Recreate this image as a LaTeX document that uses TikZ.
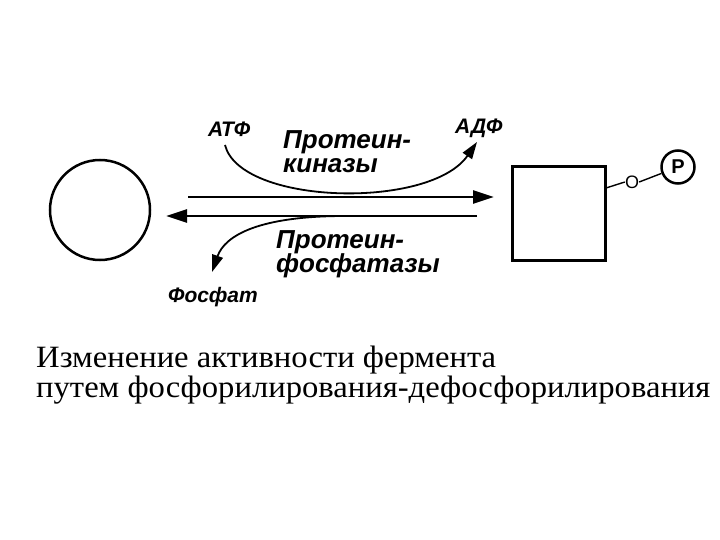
\documentclass[tikz,border=0pt]{standalone}
\usepackage{fontspec}
\setmainfont{Liberation Serif}
\newfontfamily\lsans{Liberation Sans}
\usetikzlibrary{arrows.meta}
\tikzset{
  thick line/.style={line width=2.6pt, -{Triangle[length=21pt,width=13pt]}},
  curve line/.style={line width=1.8pt, -{Triangle[length=17pt,width=11pt]}},
  enz/.style={font=\lsans\bfseries\itshape\fontsize{26}{26}\selectfont, inner sep=0pt, anchor=base west},
  small/.style={font=\lsans\bfseries\itshape\fontsize{21}{21}\selectfont, inner sep=0pt, anchor=base west},
  caption/.style={font=\fontsize{31}{27}\selectfont, inner sep=0pt, anchor=base west, align=left}
}
\begin{document}
\begin{tikzpicture}[x=1pt,y=-1pt]
\useasboundingbox (0,0) rectangle (720,540);
\node[circle, draw, line width=2.5pt, minimum size=100pt, inner sep=0pt] (E) at (100,210) {};
\node[rectangle, draw, line width=2.5pt, minimum width=93pt, minimum height=94pt, inner sep=0pt] (EP) at (559,213.5) {};
\node[font=\lsans\fontsize{18}{18}\selectfont, inner sep=0pt] (O) at (632,182) {O};
\node[circle, draw, line width=2.5pt, minimum size=33pt, inner sep=0pt, font=\lsans\bfseries\fontsize{20}{20}\selectfont] (P) at (678,167) {P};
\draw[line width=1.4pt] (606,188) -- (O.west);
\draw[line width=1.4pt] (O.east) -- (P);
% main arrows
\coordinate (a1) at (188,197);
\coordinate (a2) at (494,197);
\coordinate (b1) at (477,216);
\coordinate (b2) at (166,216);
\draw[thick line] (a1) -- (a2);
\draw[thick line] (b1) -- (b2);
% labels
\node[small] (ATP) at (208,137) {АТФ};
\node[small] (ADP) at (455,134) {АДФ};
\node[small] (Pi) at (168,302) {Фосфат};
\node[enz] (kin1) at (283,149) {Протеин-};
\node[enz] (kin2) at (283,173) {киназы};
\node[enz] (phos1) at (276,248) {Протеин-};
\node[enz] (phos2) at (276,272) {фосфатазы};
% curved arrows
\coordinate (c1) at (225,145);
\coordinate (c2) at (477,142);
\draw[curve line] (c1) .. controls (240,205) and (430,210) .. (c2);
\coordinate (d1) at (345,216);
\coordinate (d2) at (212,272);
\draw[curve line] (d1) .. controls (260,216) and (225,235) .. (d2);
% caption
\node[caption] (cap) at (36,397) {\scalebox{1.053}[1]{Изменение активности фермента}\\\scalebox{1.053}[1]{путем фосфорилирования-дефосфорилирования}};
\end{tikzpicture}
\end{document}
